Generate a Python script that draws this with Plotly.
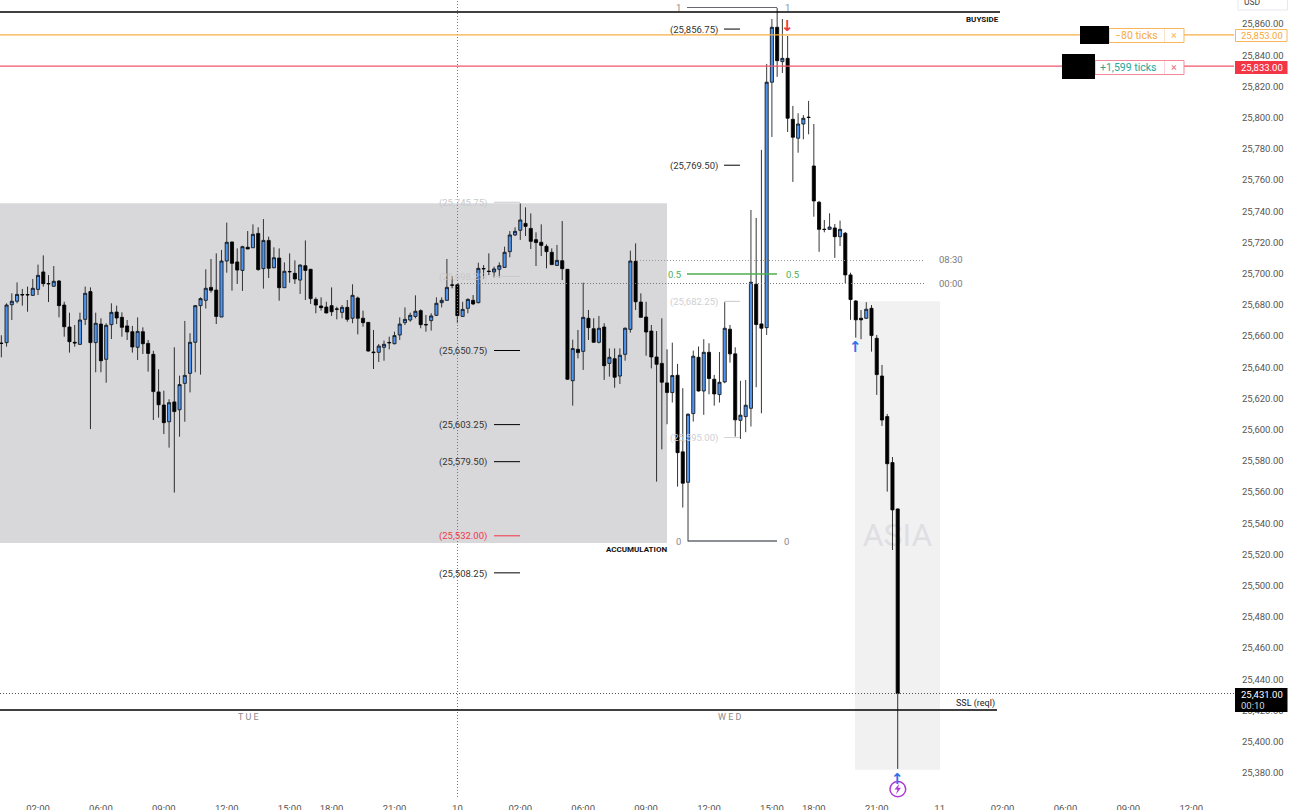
import plotly.graph_objects as go

opens = [25655.5,25655.8,25680.1,25682.3,25686.6,25686.6,25686.1,25689.9,25701.1,25693.7,
25691.9,25695.3,25679.9,25665.8,25656,25654.7,25670.7,25688.5,25655.8,25667.7,
25645.1,25667.3,25675.4,25672,25666.5,25662.8,25652.8,25662.8,25655.3,25648.3,
25624.2,25615.8,25605.1,25617.8,25612.8,25629.7,25636.1,25656,25679.5,25682.9,
25691.2,25689.5,25672.2,25708.1,25720.3,25707.5,25702.1,25716.9,25716.6,25725.8,
25703.2,25721.3,25703.8,25710,25691,25701.4,25700.2,25695.9,25705.1,25702.8,
25683.5,25679.3,25678.6,25679.5,25677.4,25675.2,25678.4,25671.4,25684.4,25671.4,
25668.8,25649.8,25649.6,25652.8,25655.9,25655.1,25660.7,25668.6,25670.3,25672.6,
25676.3,25667.4,25669.9,25673.3,25681.4,25682.9,25692.8,25692.9,25672.6,25677.8,
25682.9,25681.4,25703.3,25701.6,25701.1,25702.8,25704,25714.1,25724.8,25727.8,
25732.2,25729,25721.8,25720.1,25717.5,25713.7,25705.3,25708.3,25702.8,25631.4,
25651.5,25650.2,25671.4,25664.7,25656,25665.8,25642.5,25645.5,25634.4,25648.3,
25664.3,25707.9,25681.8,25672.2,25663.2,25646.6,25642.5,25630,25623.8,25634.9,
25585.8,25566.3,25610.3,25646.4,25624.8,25649.6,25632.3,25622.5,25630.6,25664.4,
25648.6,25606,25608.4,25613.7,25693.2,25667.8,25665.4,25822.7,25857.9,25835.9,
25838,25798.9,25786.8,25795.9,25800.3,25769,25745.8,25728.5,25728.4,25729.3,
25723.7,25725.9,25699.2,25682.5,25671.4,25671.4,25677.8,25658.6,25634.4,25608.4,
25578.9,25549.2]

closes = [25655.3,25679.9,25682.3,25686.7,25686.4,25686.4,25690.6,25698.9,25693.6,25693.5,
25695.1,25679.5,25666,25656.4,25655.6,25670.3,25687.4,25655.8,25668.2,25644.2,
25666.9,25675.2,25671.6,25665.6,25662.6,25653,25663,25655.1,25648.9,25624.4,
25616,25604.5,25617.3,25611.6,25628.9,25634.8,25656,25679.5,25684,25690.6,
25689.3,25672.6,25708.1,25720.1,25706.6,25702.3,25717.3,25715.8,25725.2,25702.6,
25721.3,25703.4,25710.2,25691,25701.5,25701.2,25696.6,25705.5,25702.1,25684,
25679.9,25678.2,25674.8,25675.6,25677.2,25678.4,25670.7,25686.1,25671.4,25668.6,
25650.4,25649.4,25653.6,25654.7,25655.7,25660.3,25667.7,25670.7,25673.3,25675.9,
25667.3,25667.2,25672.9,25681,25682.9,25691.2,25692.6,25673.1,25677.1,25683.5,
25680.6,25703.4,25703.1,25701.4,25703,25705.1,25713.7,25724.8,25727.1,25734.4,
25730.3,25720.7,25719.9,25718.1,25714.1,25705.8,25708.5,25703.2,25632.3,25652,
25649.4,25672,25665.4,25656,25665,25641,25646.4,25633.6,25647.7,25665,
25708.1,25682,25672,25662.6,25646.6,25641.9,25630.4,25623.8,25634.7,25585.3,
25565.7,25609.9,25647.1,25624.8,25649.6,25632.8,25622.9,25630.4,25665,25648.6,
25606.3,25609.3,25615.7,25694.5,25667.4,25665,25822.7,25857.9,25836.5,25838,
25799.6,25787.4,25795.9,25799.6,25800.1,25746.6,25728.4,25728.3,25729.9,25723.7,
25728.4,25699.2,25683.4,25670.4,25670.4,25677.2,25660.3,25635.3,25606.2,25578.2,
25548.6,25431]

highs = [25660.5,25681,25687.4,25694.4,25690.2,25691.7,25696.6,25705.8,25711.7,25699.1,
25704.9,25695.9,25682,25675,25667.1,25675,25691.7,25691.2,25675,25671.4,
25668.2,25681,25679.5,25675.2,25670.3,25666.5,25672,25665.6,25657.5,25650.6,
25638.7,25625,25619.5,25652.8,25634.6,25669.7,25661.8,25679.9,25684.8,25702.8,
25709.4,25713,25715.2,25732.7,25720.5,25716.2,25717.9,25727.3,25731.6,25729.7,
25735,25723.7,25716.9,25716.2,25707.2,25713,25708.5,25706,25721.3,25703,
25684.8,25684.8,25682,25691.2,25678.8,25679.9,25683.1,25693.2,25685.3,25676.3,
25668.8,25663.9,25654.9,25657.1,25659.6,25662.8,25672,25678.4,25675,25686.1,
25677.1,25673.5,25674.6,25684.8,25684.8,25709.4,25698.5,25693.2,25682,25684.2,
25686.3,25707,25705.5,25713,25704.5,25707.2,25717.3,25727.3,25729.7,25745,
25742.5,25738.6,25726.5,25731.6,25718.8,25716.2,25718.4,25733.7,25703,25657.7,
25663.9,25694.2,25676.7,25671.4,25672.9,25668.2,25652.1,25652.1,25652.1,25665.6,
25714.7,25719.4,25687.4,25682,25667.1,25663.2,25671.4,25651.5,25655.8,25642.2,
25626.6,25610.5,25650.7,25653.3,25658,25655.4,25635.1,25649.8,25681.7,25667.1,
25652.8,25631.3,25631.9,25740.8,25735.7,25779.3,25834.4,25863.2,25870.3,25863.2,
25852.3,25807.5,25802.8,25801.7,25810.7,25795.9,25746.6,25734.4,25738.7,25731.8,
25734,25726.7,25700.6,25683.1,25676.7,25681.7,25679.9,25660.7,25641.5,25610.1,
25582.5,25549.5]

lows = [25646.4,25653.2,25670.3,25681,25679.5,25675.6,25685.7,25686.3,25691.7,25681.8,
25691.7,25672,25659.6,25649.4,25653.2,25654.3,25667.1,25600.4,25636.8,25636.8,
25630.1,25658.1,25667.7,25659.6,25657.5,25649.4,25644.7,25648.5,25637.2,25606.2,
25607.7,25597.2,25588.5,25559.7,25595.5,25605.1,25623.9,25636.8,25635.3,25677.6,
25687.8,25667.7,25672.2,25700.6,25689.1,25693.4,25688.9,25715.8,25716.6,25701.9,
25690.4,25697.2,25703.4,25682.7,25691,25694.2,25693.4,25687,25683.1,25680.6,
25674.6,25676.3,25674.6,25672.9,25670.7,25671.4,25669.2,25668.2,25661.1,25666,
25650,25638.9,25643.4,25644.2,25651.5,25654.7,25657.5,25667.1,25669.2,25671.4,
25665,25662.8,25663.5,25672.9,25678.4,25682.7,25690.6,25668.2,25672.4,25674.6,
25679.9,25681,25696.6,25699.1,25697.6,25697.6,25703.8,25710.5,25724.1,25721.6,
25724.1,25715.8,25704.9,25711.3,25703.4,25705.5,25704.9,25695.9,25631.9,25615.4,
25645.7,25638.3,25657.5,25655.8,25655.3,25631.9,25634,25626.9,25629.3,25644.2,
25662.2,25676.7,25671.8,25647.4,25639.3,25566.7,25587.4,25603.5,25617.4,25563.5,
25550.1,25528.3,25605.2,25624.4,25609.5,25622.7,25615.4,25617.4,25629.8,25643,
25595.6,25594.1,25598.4,25602,25627.2,25610.5,25660.7,25787.6,25826.1,25828.6,
25790.8,25758.8,25777.5,25786.1,25789.3,25736.5,25714,25726.5,25728,25710.1,
25717.7,25694,25670.4,25659,25658,25671,25650,25622.3,25602.4,25560.3,
25522.9,25382.6]

price_ticks = list(range(25380, 25880, 20))
time_tick_bars = [7, 19, 31, 43, 55, 63, 75, 87, 99, 111, 123, 135, 147, 155, 167, 179, 191, 203, 215, 227]
time_tick_text = ["02:00", "06:00", "09:00", "12:00", "15:00", "18:00", "21:00", "10",
                  "02:00", "06:00", "09:00", "12:00", "15:00", "18:00", "21:00", "11",
                  "02:00", "06:00", "09:00", "12:00"]

FONT = "Roboto"
W, H, PLOT_W, PLOT_H = 1290, 810, 1234, 797
X0, DX = 1.33, 5.242
Y_TOP, Y_BOT = 25875.38, 25364.6


def bar(px):
    return (px - X0) / DX


def price(py):
    return Y_TOP - (Y_TOP - Y_BOT) * py / PLOT_H


def fx(px):
    return px / PLOT_W


def fy(py):
    return 1 - py / PLOT_H


bars = list(range(len(opens)))
fig = go.Figure(go.Candlestick(
    x=bars, open=opens, high=highs, low=lows, close=closes,
    increasing=dict(line=dict(color="#0a0a0a", width=0.8), fillcolor="#4f95ee"),
    decreasing=dict(line=dict(color="#000000", width=0.8), fillcolor="#000000"),
    whiskerwidth=0, showlegend=False, hoverinfo="skip",
))

shapes = []
DOT = "1px,2px"


def hline(x0, x1, p, color, width=1, dash="solid", layer="above"):
    shapes.append(dict(type="line", xref="x", yref="y", x0=bar(x0), x1=bar(x1), y0=p, y1=p,
                       line=dict(color=color, width=width, dash=dash), layer=layer))


def box(x0, x1, y0, y1, fill, line=None, layer="above"):
    shapes.append(dict(type="rect", xref="paper", yref="paper", x0=fx(x0), x1=fx(x1),
                       y0=fy(y0), y1=fy(y1), fillcolor=fill,
                       line=dict(color=line or fill, width=1 if line else 0), layer=layer))


# zones
shapes.append(dict(type="rect", xref="x", yref="y", x0=bar(0), x1=bar(667), y0=25527.4, y1=price(203.3),
                   fillcolor="#d8d8da", line=dict(width=0), layer="below"))
shapes.append(dict(type="rect", xref="x", yref="y", x0=bar(855), x1=bar(940), y0=25382, y1=25682.25,
                   fillcolor="#f1f1f2", line=dict(width=0), layer="below",
                   label=dict(text="ASIA", font=dict(family=FONT, size=32, color="#dfdfe3"),
                              textposition="top center", padding=213)))

# dotted guides
shapes.append(dict(type="line", xref="x", yref="paper", x0=bar(457.5), x1=bar(457.5), y0=0, y1=1,
                   line=dict(color="#77777c", width=1, dash=DOT), layer="above"))
hline(0, 1234, price(693.5), "#555555", 1, DOT)
hline(458, 925, price(283.5), "#777777", 1, DOT)
hline(637, 923, price(260.5), "#999999", 1, DOT)

# key levels
hline(0, 1000, price(12), "#000000", 1.5)
hline(0, 997, price(710), "#000000", 1.5)
hline(0, 1234, 25853, "#f9ae45", 1.2)
hline(0, 1234, 25833, "#f0556b", 1.2)

# fib
hline(687, 777, price(7.5), "#666a70", 1)
hline(687, 777, price(274), "#4caf50", 1.5)
hline(688, 777, price(541), "#666a70", 1.5)

# price markers
dash_levels = [
    (724, 740, 25856.75, "#000000"), (724, 740, 25769.5, "#000000"),
    (494, 520, 25745.75, "#c9c9cc"), (494, 520, 25698.25, "#c9c9cc"),
    (724, 740, 25682.25, "#c9c9cc"), (494, 520, 25650.75, "#000000"),
    (724, 740, 25595.0, "#d4d4d6"), (494, 520, 25603.25, "#000000"),
    (494, 520, 25579.5, "#000000"), (494, 520, 25532.0, "#f23645"),
    (494, 520, 25508.25, "#000000"),
]
for a, b, p, c in dash_levels:
    hline(a, b, p, c, 1)

# order boxes
box(1109, 1184, 28.5, 42.5, "#ffffff", "#f7b75e")
box(1095, 1184, 60.5, 74.5, "#ffffff", "#f48a99")
shapes.append(dict(type="line", xref="paper", yref="paper", x0=fx(1164.5), x1=fx(1164.5), y0=fy(29), y1=fy(42),
                   line=dict(color="#fbe3c3", width=1)))
shapes.append(dict(type="line", xref="paper", yref="paper", x0=fx(1164.5), x1=fx(1164.5), y0=fy(61), y1=fy(74),
                   line=dict(color="#fbd5da", width=1)))
box(1080, 1109, 26, 44, "#000000")
box(1062, 1095, 54, 79, "#000000")

# price scale tags
box(1238, 1287.5, -3, 10, "#ffffff", "#e6e8ee")
box(1235.5, 1287, 29.5, 41.5, "#ffffff", "#f7b75e")
box(1235, 1287.5, 61, 74, "#f23645")
box(1235, 1287.5, 688, 712, "#000000")

# signal marker
shapes.append(dict(type="circle", xref="paper", yref="paper", x0=fx(890), x1=fx(905.7), y0=fy(781.5), y1=fy(796.8),
                   line=dict(color="#b03ad6", width=1.5), fillcolor="rgba(255,255,255,0)"))
bolt = [(899.5, 783.5), (894.5, 789.5), (897.5, 789.5), (896, 794.5), (901, 787.8), (898, 787.8)]
shapes.append(dict(type="path", xref="paper", yref="paper",
                   path="M " + " L ".join(f"{fx(a)},{fy(b)}" for a, b in bolt) + " Z",
                   fillcolor="#b03ad6", line=dict(width=0)))

ann = []


def text(px, py, s, color="#333333", size=9.5, anchor="center", bold=False, font=FONT):
    ann.append(dict(xref="paper", yref="paper", x=fx(px), y=fy(py), text=f"<b>{s}</b>" if bold else s,
                    showarrow=False, xanchor=anchor, yanchor="middle",
                    font=dict(family=font, size=size, color=color),
                    borderpad=0, borderwidth=0))


labels = [
    (693.5, 30, "(25,856.75)", "#333333"), (693.5, 166, "(25,769.50)", "#333333"),
    (462.5, 202.5, "(25,745.75)", "#c9c9cc"), (462.5, 277, "(25,698.25)", "#c9c9cc"),
    (693.5, 302, "(25,682.25)", "#cfcfd2"), (462.5, 351, "(25,650.75)", "#333333"),
    (462.5, 425, "(25,603.25)", "#333333"), (693.5, 438, "(25,595.00)", "#cfcfd2"),
    (462.5, 462, "(25,579.50)", "#333333"), (462.5, 536, "(25,532.00)", "#f23645"),
    (462.5, 574, "(25,508.25)", "#333333"),
]
for a, b, s, c in labels:
    text(a, b, s, c)

text(999, 19.5, "BUYSIDE", "#111111", 8, "right", True)
text(667, 549.5, "ACCUMULATION", "#111111", 8, "right", True)
text(975, 703, "SSL (reql)", "#222222", 9)
text(951, 259.5, "08:30", "#7a7a7a", 9.5)
text(951, 283, "00:00", "#7a7a7a", 9.5)
text(248, 717, "T U E", "#8a8a8e", 9)
text(730, 717, "W E D", "#8a8a8e", 9)

for a, b in ((678, 7.5), (787, 7.5), (678, 541.5), (786, 541.5)):
    text(a, b, "1" if b < 100 else "0", "#8a8a8e", 9.5)
text(674, 274.5, "0.5", "#4caf50", 9.5)
text(792, 274.5, "0.5", "#4caf50", 9.5)

text(1136, 35.5, "−80 ticks", "#f7a93a", 10.5)
text(1174, 35.5, "×", "#f7b75e", 11)
text(1128, 67.5, "+1,599 ticks", "#26a69a", 10.5)
text(1174, 67.5, "×", "#f0707f", 11)

text(1262, 35.5, "25,853.00", "#f7a93a", 9.5)
text(1262, 67.5, "25,833.00", "#ffffff", 9.5)
text(1262, 694.5, "25,431.00", "#ffffff", 9.5)
text(1253.5, 705.5, "00:10", "#d4d4d4", 9.5)
text(1252.5, 2, "USD", "#444444", 8.5)

text(787, 26, "↓", "#f23645", 15, bold=True, font="DejaVu Sans")
text(855, 347, "↑", "#2f6ff2", 15, bold=True, font="DejaVu Sans")
text(897.7, 779, "↑", "#2f6ff2", 15, bold=True, font="DejaVu Sans")

fig.update_layout(
    width=W, height=H, margin=dict(l=0, r=W - PLOT_W, t=0, b=H - PLOT_H),
    paper_bgcolor="#ffffff", plot_bgcolor="#ffffff", showlegend=False, boxgap=0.15,
    shapes=shapes, annotations=ann,
    xaxis=dict(range=[bar(0), bar(PLOT_W)], rangeslider=dict(visible=False), showgrid=False, zeroline=False,
               showline=False, tickmode="array", tickvals=time_tick_bars, ticktext=time_tick_text,
               ticks="outside", ticklen=3, tickcolor="#ffffff", automargin=False,
               tickfont=dict(family=FONT, size=9.5, color="#555555")),
    yaxis=dict(range=[Y_BOT, Y_TOP], side="right", showgrid=False, zeroline=False, showline=False,
               tickmode="array", tickvals=price_ticks, tickformat=",.2f",
               ticks="outside", ticklen=5, tickcolor="#ffffff", automargin=False,
               tickfont=dict(family=FONT, size=9.5, color="#555555")),
)

fig.write_html("out.html", config={"displayModeBar": False},
               post_script="document.body.style.margin='0';document.body.style.overflow='hidden';")
